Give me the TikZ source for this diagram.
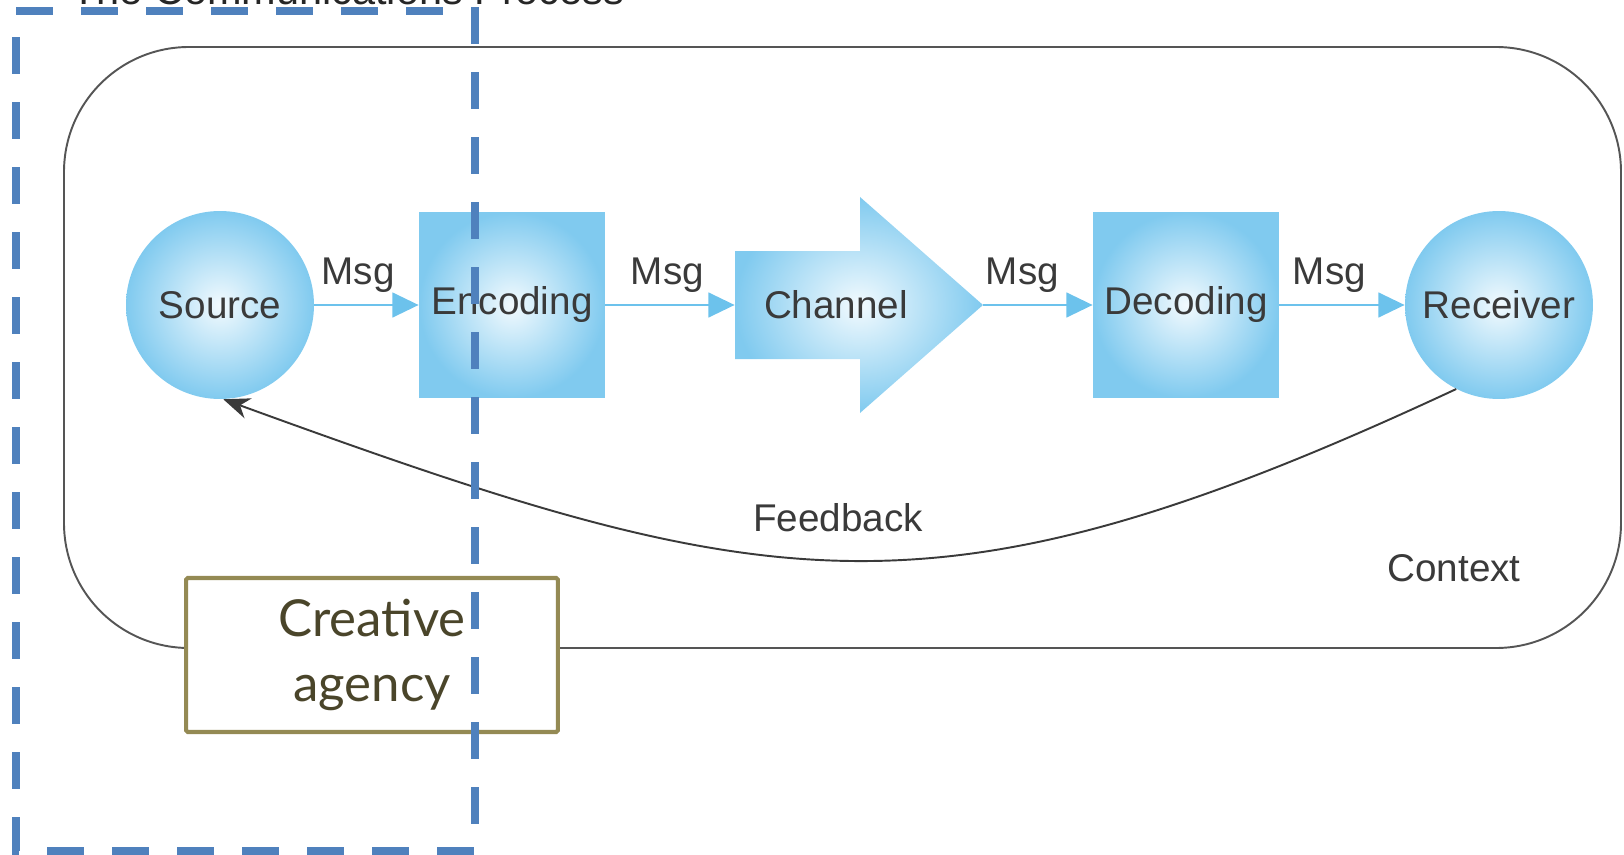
\documentclass[tikz,border=0pt]{standalone}
\usepackage{fontspec}
\setmainfont{Liberation Sans}
\newfontfamily\agencyfont{Lato}
\usetikzlibrary{arrows.meta}

\definecolor{msgblue}{HTML}{6CC2EC}
\definecolor{glowin}{HTML}{F2FAFE}
\definecolor{glowout}{HTML}{80CAEF}
\definecolor{labelgrey}{HTML}{3A3A3A}
\definecolor{contextgrey}{HTML}{555555}
\definecolor{agencyline}{HTML}{948A54}
\definecolor{agencytext}{HTML}{4A452A}
\definecolor{officeblue}{HTML}{4F81BD}

\begin{document}
\begin{tikzpicture}[
  x=0.02cm, y=-0.02cm,
  every node/.style={text=labelgrey,font=\fontsize{22}{26}\selectfont},
  glow/.style={shade,shading=radial,inner color=glowin,outer color=glowout},
  blob/.style={glow,circle,minimum size=3.76cm,inner sep=0pt},
  coder/.style={glow,rectangle,minimum size=3.72cm,inner sep=0pt},
  msg/.style={msgblue,line width=1.7pt,-{Triangle[length=15pt,width=14pt]}},
  feedback/.style={labelgrey,line width=1.1pt,-{Stealth[length=15pt,width=12pt]}}
]
  \useasboundingbox (0,0) rectangle (1624,855);

  % title, cut by the top edge
  \node[anchor=base west,font=\fontsize{23.6}{28}\selectfont,text=black!85] (title) at (65,5) {The Communications Process};

  % context frame
  \draw[contextgrey,line width=1.1pt,rounded corners=2.5cm] (64,47) rectangle (1621,648);

  % the chain
  \node[blob] (source) at (220,305) {Source};
  \node[coder] (encoding) at (512,305) {Encoding};
  \shade[glow] (735,251) -- (860,251) -- (860,197) -- (983,305) -- (860,413) -- (860,359) -- (735,359) -- cycle;
  \node[minimum width=4.04cm,inner sep=0pt] (channel) at (836,305) {Channel};
  \coordinate (chtip) at (983,305);
  \node[coder] (decoding) at (1186,305) {Decoding};
  \node[blob] (receiver) at (1499,305) {Receiver};

  \draw[msg] (source) -- node[pos=.42,above=3pt] (msga) {Msg} (encoding);
  \draw[msg] (encoding) -- node[pos=.48,above=3pt] (msgb) {Msg} (channel);
  \draw[msg] (chtip) -- node[pos=.36,above=3pt] (msgc) {Msg} (decoding);
  \draw[msg] (decoding) -- node[pos=.4,above=3pt] (msgd) {Msg} (receiver);

  \draw[feedback] (receiver.-117) to[out=205,in=-20,looseness=1.2] (source.-88);
  \node (fbtext) at (838,518) {Feedback};
  \node (context) at (1454,568) {Context};

  % agency box and its dashed scope
  \node[draw=agencyline,line width=2.3pt,fill=white,rounded corners=1pt,
        minimum width=7.44cm,minimum height=3.08cm,align=center,
        text=agencytext,font=\agencyfont\fontsize{29}{37}\selectfont] (agency) at (372,655) {Creative\\agency};
  \draw[officeblue,line width=5.1pt,dash pattern=on 21pt off 16pt]
    (16,11) -- (475,11) -- (475,851) -- (16,851) -- cycle;
\end{tikzpicture}
\end{document}
